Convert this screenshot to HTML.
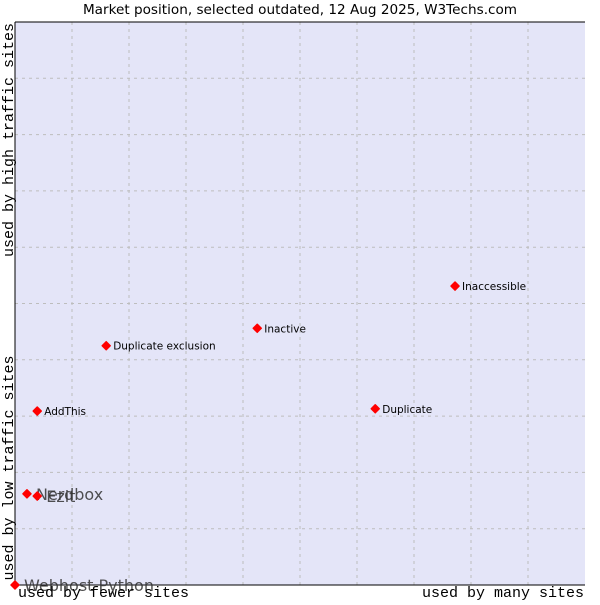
<!DOCTYPE html>
<html><head><meta charset="utf-8"><style>
body{margin:0;background:#fff;width:600px;height:600px;overflow:hidden}
text{font-family:"DejaVu Sans","Liberation Sans",sans-serif}
.mono{font-family:"Liberation Mono","DejaVu Sans Mono",monospace;font-size:15px}
</style></head><body>
<svg id="chart" width="600" height="600">
<text x="300" y="14" text-anchor="middle" font-size="13.6">Market position, selected outdated, 12 Aug 2025, W3Techs.com</text>
<rect x="15" y="22" width="570" height="563" fill="#e4e5f8"/>
<g id="grid"></g>
<path d="M15 22H585M15 22V585H585" fill="none" stroke="#000" stroke-width="1"/>
<g id="points"></g>
<text class="mono" x="18" y="597">used by fewer sites</text>
<text class="mono" x="584" y="597" text-anchor="end">used by many sites</text>
<text class="mono" transform="translate(13,140) rotate(-90)" text-anchor="middle">used by high traffic sites</text>
<text class="mono" transform="translate(13,468) rotate(-90)" text-anchor="middle">used by low traffic sites</text>
</svg>
<script>
const names=["Webhost Python","Nerdbox","Ezit","AddThis","Duplicate exclusion","Inactive","Duplicate","Inaccessible"];
const xVals=[0,0.21,0.39,0.39,1.6,4.25,6.32,7.72];
const yVals=[0,1.62,1.58,3.09,4.25,4.56,3.13,5.31];
const bigLabel=[true,true,true,false,false,false,false,false];
const X=v=>15+57*v, Y=v=>585-56.3*v;
const NS="http://www.w3.org/2000/svg";
const grid=document.getElementById('grid'), pts=document.getElementById('points');
for(let k=1;k<10;k++){
 const l=document.createElementNS(NS,'line');
 l.setAttribute('x1',X(k));l.setAttribute('x2',X(k));l.setAttribute('y1',22);l.setAttribute('y2',585);
 l.setAttribute('stroke','#bdbdbd');l.setAttribute('stroke-dasharray','3,4');
 
 
 grid.appendChild(l);
 const h=document.createElementNS(NS,'line');
 h.setAttribute('y1',Y(k));h.setAttribute('y2',Y(k));h.setAttribute('x1',15);h.setAttribute('x2',585);
 h.setAttribute('stroke','#bdbdbd');h.setAttribute('stroke-dasharray','3,4');
 
 
 grid.appendChild(h);
}
names.forEach((n,i)=>{
 const cx=X(xVals[i]),cy=Y(yVals[i]);
 const d=document.createElementNS(NS,'path');
 d.setAttribute('d',`M${cx-4} ${cy}L${cx} ${cy-4}L${cx+4} ${cy}L${cx} ${cy+4}Z`);
 d.setAttribute('fill','#f00');d.setAttribute('stroke','#f00');d.setAttribute('stroke-width','1.5');d.setAttribute('stroke-linejoin','round');
 
 
 pts.appendChild(d);
 const t=document.createElementNS(NS,'text');
 t.setAttribute('x',cx+(bigLabel[i]?9:7));t.setAttribute('y',cy+(bigLabel[i]?6:4));
 t.setAttribute('font-size',bigLabel[i]?16:10.5);
 t.setAttribute('fill',bigLabel[i]?'#333':'#000');
 if(bigLabel[i])t.setAttribute('fill-opacity','0.85');
 t.textContent=n;
 
 
 pts.appendChild(t);
});
</script>
</body></html>
